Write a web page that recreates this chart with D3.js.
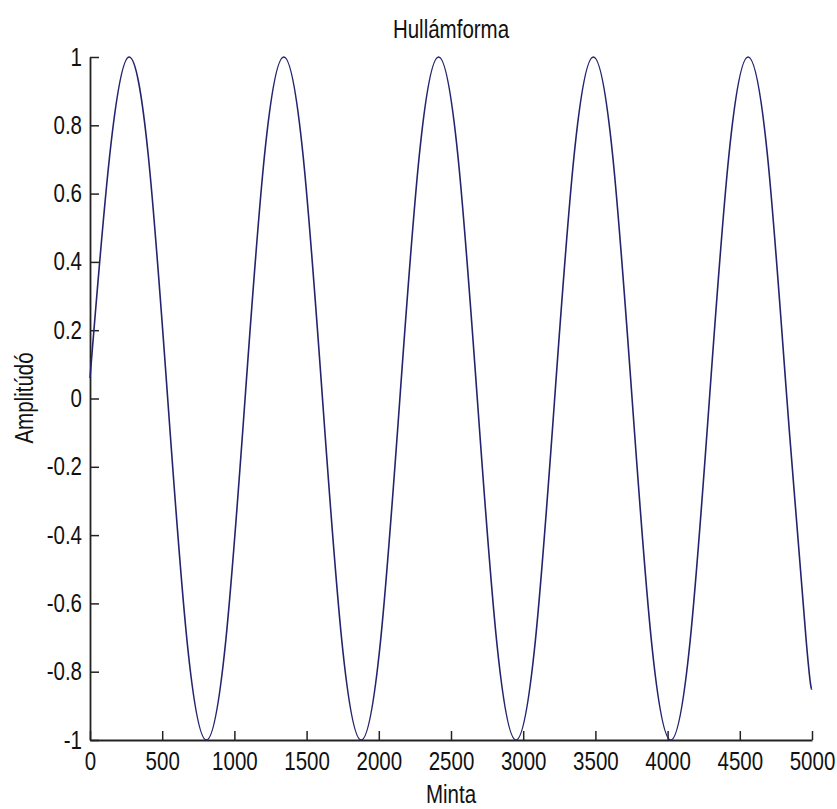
<!DOCTYPE html>
<html>
<head>
<meta charset="utf-8">
<script src="https://cdn.jsdelivr.net/npm/d3@7"></script>
<style>
  body { margin: 0; background: #fff; }
  text { font-family: "Liberation Sans", Arial, sans-serif; fill: #111; }
</style>
</head>
<body>
<div id="chart"></div>
<script>
// values (sample index / amplitude)
var samples = [0, 136, 270, 404, 538, 672, 806, 940, 1074, 1208, 1342, 1476, 1610, 1744, 1878, 2012,
  2146, 2280, 2414, 2548, 2682, 2816, 2950, 3084, 3218, 3352, 3486, 3620, 3754, 3888, 4022, 4156,
  4290, 4424, 4558, 4692, 4826, 4960, 5000];
var amplitude = [0.06, 0.71, 1, 0.71, 0, -0.71, -1, -0.71, 0, 0.71, 1, 0.71, 0, -0.71, -1, -0.71,
  0, 0.71, 1, 0.71, 0, -0.71, -1, -0.71, 0, 0.71, 1, 0.71, 0, -0.71, -1, -0.71,
  0, 0.71, 1, 0.71, 0, -0.71, -0.85];
var xTicks = [0, 500, 1000, 1500, 2000, 2500, 3000, 3500, 4000, 4500, 5000];
var yTicks = [-1, -0.8, -0.6, -0.4, -0.2, 0, 0.2, 0.4, 0.6, 0.8, 1];

var width = 837, height = 809;
var svg = d3.select("#chart").append("svg")
  .attr("width", width)
  .attr("height", height)
  .style("background-color", "#fff");

var x = d3.scaleLinear().domain([0, 5000]).range([90, 812]);
var y = d3.scaleLinear().domain([-1, 1]).range([740, 57]);

var fmt = function(d) { return String(+d.toFixed(1)); };

var gx = svg.append("g")
  .attr("transform", "translate(0,740)")
  .call(d3.axisBottom(x).tickValues(xTicks).tickFormat(fmt)
    .tickSizeInner(-9).tickSizeOuter(0).tickPadding(12));

var gy = svg.append("g")
  .attr("transform", "translate(90,0)")
  .call(d3.axisLeft(y).tickValues(yTicks).tickFormat(fmt)
    .tickSizeInner(-9).tickSizeOuter(0).tickPadding(8));

[gx, gy].forEach(function(g) {
  g.attr("font-family", null).attr("font-size", null);
  g.selectAll(".domain").attr("stroke", "#222").attr("stroke-width", 1.8);
  g.selectAll(".tick line").attr("stroke", "#222").attr("stroke-width", 1.5);
  g.selectAll(".tick text").attr("font-size", 25);
});

var points = samples.map(function(s, i) { return [s, amplitude[i]]; });

var line = d3.line()
  .x(function(d) { return x(d[0]); })
  .y(function(d) { return y(d[1]); })
  .curve(d3.curveNatural);

svg.append("path")
  .datum(points)
  .attr("fill", "none")
  .attr("stroke", "#24246e")
  .attr("stroke-width", 1.6)
  .attr("d", line);

svg.append("text")
  .attr("x", 451)
  .attr("y", 38)
  .attr("text-anchor", "middle")
  .attr("font-size", 25)
  .text("Hullámforma");

svg.append("text")
  .attr("x", 451)
  .attr("y", 803)
  .attr("text-anchor", "middle")
  .attr("font-size", 25)
  .text("Minta");

svg.append("text")
  .attr("transform", "translate(33,398) rotate(-90)")
  .attr("text-anchor", "middle")
  .attr("font-size", 25)
  .text("Amplitúdó");

// the reference uses a narrow face; squeeze the text horizontally
svg.selectAll("text").each(function() {
  var w = this.getComputedTextLength();
  d3.select(this)
    .attr("textLength", w * 0.82)
    .attr("lengthAdjust", "spacingAndGlyphs");
});
</script>
</body>
</html>
